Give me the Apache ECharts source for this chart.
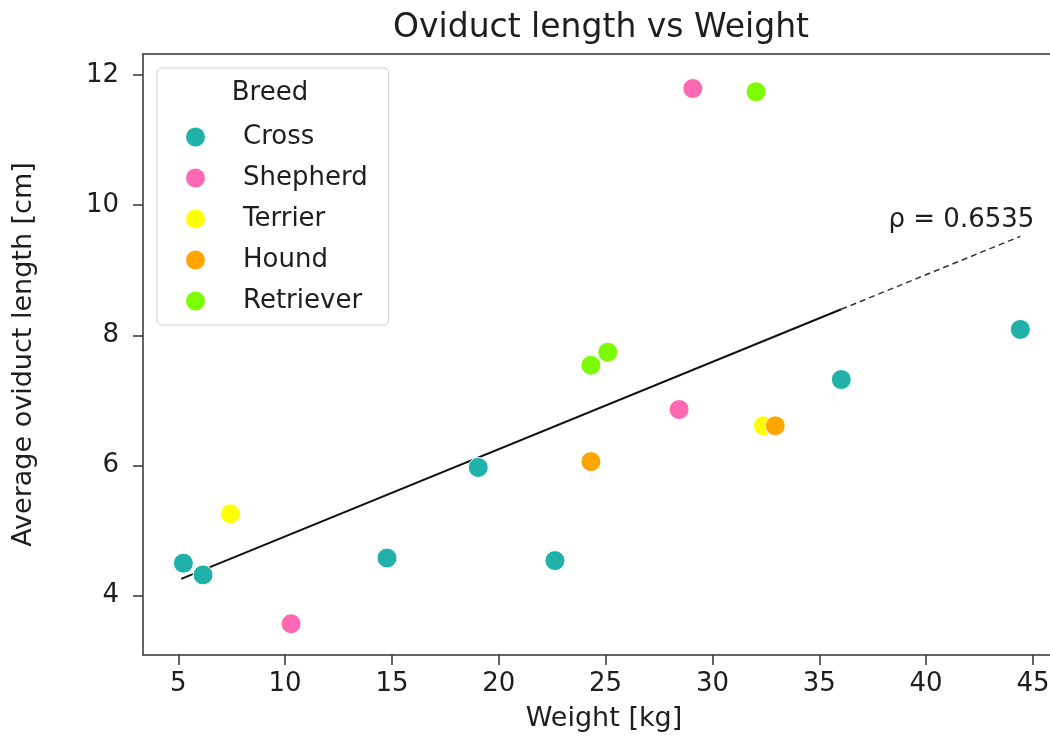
<!DOCTYPE html>
<html>
<head>
<meta charset="utf-8">
<script src="https://cdn.jsdelivr.net/npm/echarts@6/dist/echarts.min.js"></script>
<style>
  html, body { margin: 0; padding: 0; background: #fff; overflow: hidden; }
  #chart { width: 1050px; height: 742px; }
</style>
</head>
<body>
<div id="chart"></div>
<script>
// values
const breeds = ['Cross', 'Shepherd', 'Terrier', 'Hound', 'Retriever']
const colors = ['#20B2AA', '#FF69B4', '#FFFF00', '#FFA500', '#7CFC00']

const crossX = [5.24, 6.16, 14.77, 19.04, 22.63, 36.03, 44.41]
const crossY = [4.50, 4.32, 4.58, 5.97, 4.54, 7.32, 8.09]
const shepherdX = [29.08, 28.44, 10.28]
const shepherdY = [11.79, 6.86, 3.57]
const terrierX = [7.44, 32.39]
const terrierY = [5.26, 6.61]
const houndX = [24.31, 32.94]
const houndY = [6.06, 6.61]
const retrieverX = [32.04, 24.31, 25.10]
const retrieverY = [11.74, 7.54, 7.74]

// regression line: solid part, then dashed extension
const fitX = [5.14, 36.03, 44.41]
const fitY = [4.26, 8.40, 9.52]
const rho = 0.6535

const xTicks = [5, 10, 15, 20, 25, 30, 35, 40, 45]
const yTicks = [4, 6, 8, 10, 12]

const pairs = (xs, ys) => xs.map((x, i) => [x, ys[i]])
const groupsX = [crossX, shepherdX, terrierX, houndX, retrieverX]
const groupsY = [crossY, shepherdY, terrierY, houndY, retrieverY]

const font = 'DejaVu Sans'
const ink = '#1e1e1e'
const spine = { show: true, lineStyle: { color: '#333', width: 1.5 } }

const scatterSeries = breeds.map((name, i) => ({
  name: name,
  type: 'scatter',
  symbolSize: 20,
  itemStyle: { color: colors[i], borderColor: '#fff', borderWidth: 1, opacity: 1 },
  data: pairs(groupsX[i], groupsY[i]),
  z: 3
}))

const chart = echarts.init(document.getElementById('chart'))
chart.setOption({
  animation: false,
  backgroundColor: '#fff',
  textStyle: { fontFamily: font },
  grid: {
    left: 143, right: -15, top: 54, bottom: 87,
    outerBoundsMode: 'none',
    containLabel: false,
    show: false
  },
  graphic: [
    {
      type: 'text', x: 601, y: 12, z: 100,
      style: { text: 'Oviduct length vs Weight', font: '33px "DejaVu Sans"', fill: ink, align: 'center' }
    },
    {
      type: 'text', x: 270, y: 93, z: 100,
      style: { text: 'Breed', font: '26px "DejaVu Sans"', fill: ink, align: 'center', verticalAlign: 'middle' }
    }
  ],
  legend: {
    data: breeds,
    orient: 'vertical',
    left: 157, top: 68,
    padding: [56, 21, 11, 29],
    itemWidth: 19, itemHeight: 19, itemGap: 15,
    icon: 'circle',
    borderColor: '#ccc', borderWidth: 1, borderRadius: 5,
    backgroundColor: 'transparent',
    textStyle: { fontFamily: font, fontSize: 26, color: ink, padding: [0, 0, 0, 33] },
    itemStyle: { borderWidth: 0 }
  },
  xAxis: [
    {
      type: 'value',
      position: 'bottom',
      min: 3.35, max: 46.5,
      name: 'Weight [kg]',
      nameLocation: 'middle',
      nameGap: 50,
      nameTextStyle: { fontFamily: font, fontSize: 27, color: ink },
      splitLine: { show: false },
      axisLine: spine,
      axisTick: { show: true, length: 10, customValues: xTicks, lineStyle: { color: '#333', width: 1.5 } },
      axisLabel: { customValues: xTicks, fontFamily: font, fontSize: 26, color: ink, margin: 16 }
    },
    {
      // top spine only
      type: 'value',
      position: 'top',
      min: 3.35, max: 46.5,
      splitLine: { show: false },
      axisLine: spine,
      axisTick: { show: false },
      axisLabel: { show: false }
    }
  ],
  yAxis: {
    type: 'value',
    min: 3.09, max: 12.32,
    name: 'Average oviduct length [cm]',
    nameLocation: 'middle',
    nameGap: 106,
    nameTextStyle: { fontFamily: font, fontSize: 27, color: ink },
    splitLine: { show: false },
    axisLine: spine,
    axisTick: { show: true, length: 10, customValues: yTicks, lineStyle: { color: '#333', width: 1.5 } },
    axisLabel: { customValues: yTicks, fontFamily: font, fontSize: 26, color: ink, margin: 24 }
  },
  series: [
    ...scatterSeries,
    {
      name: 'fit',
      type: 'line',
      symbol: 'none',
      data: pairs(fitX.slice(0, 2), fitY.slice(0, 2)),
      lineStyle: { color: '#111', width: 2 },
      z: 2
    },
    {
      name: 'fit-ext',
      type: 'line',
      symbol: 'none',
      data: pairs(fitX.slice(1), fitY.slice(1)),
      lineStyle: { color: '#333', width: 1.5, type: [6, 4] },
      z: 2
    },
    {
      name: 'rho',
      type: 'scatter',
      symbolSize: 0.1,
      itemStyle: { color: 'transparent' },
      data: [[fitX[2], fitY[2]]],
      label: {
        show: true,
        formatter: 'ρ = ' + rho,
        position: 'top',
        align: 'right',
        distance: 3,
        offset: [14, 0],
        fontFamily: font,
        fontSize: 26,
        color: ink,
        opacity: 1
      },
      z: 4
    }
  ]
})
</script>
</body>
</html>
